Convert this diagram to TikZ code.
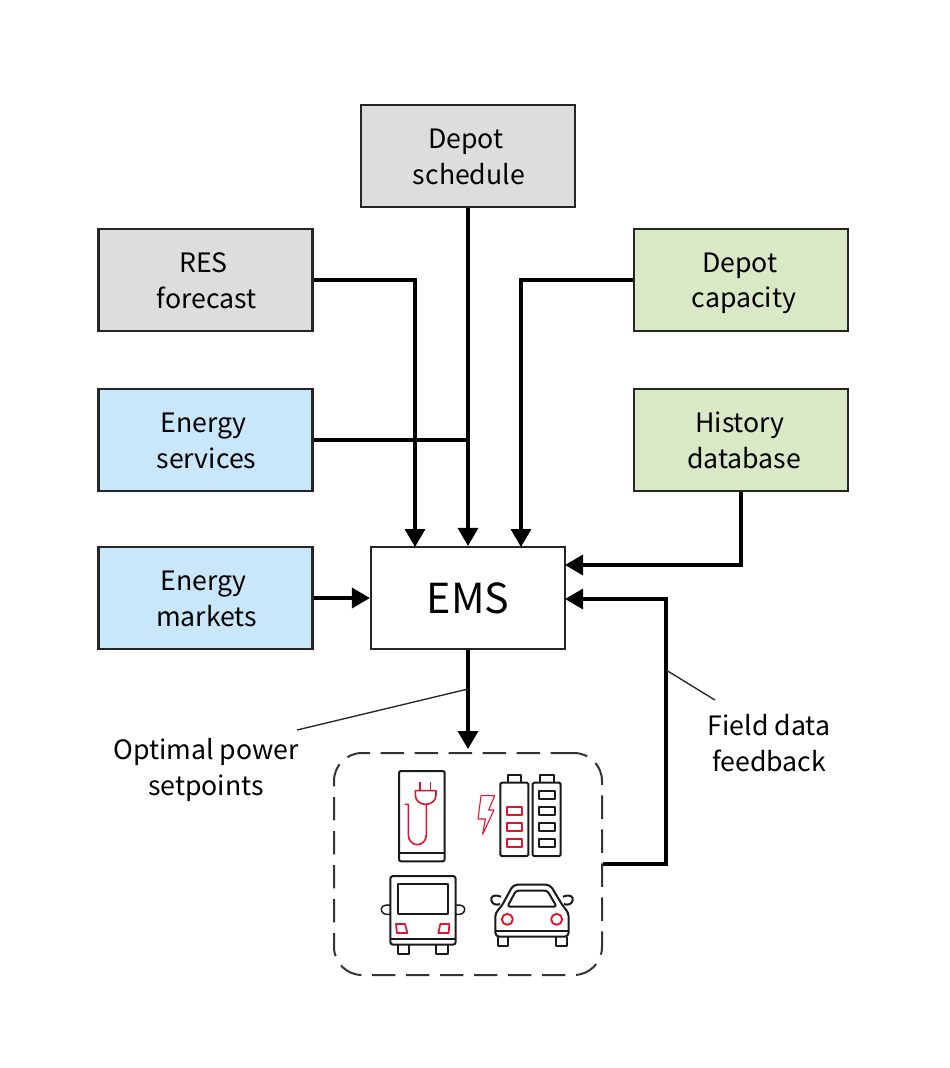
\documentclass[tikz,border=0pt]{standalone}
\usepackage{fontspec}
\setmainfont{Noto Sans CJK JP}
\usetikzlibrary{arrows.meta,calc}
\definecolor{grayfill}{HTML}{DCDEDD}
\definecolor{greenfill}{HTML}{D9E8C5}
\definecolor{bluefill}{HTML}{C9E7FA}
\definecolor{iconred}{HTML}{E8112D}
\newcommand\lineprop{\rule[-4.3pt]{0pt}{24pt}}
\newcommand\twoL[2]{#1\lineprop\hspace*{3pt}\\\hspace*{1.5pt}#2\lineprop}
\newcommand\twoR[2]{#1\lineprop\hspace*{1.5pt}\\\hspace*{4.5pt}#2\lineprop}
\tikzset{
  x=0.75pt,y=-0.75pt,
  box/.style={draw=black!85,line width=1.6pt,minimum width=160.5pt,minimum height=76.5pt,inner sep=0pt,align=center,font=\fontsize{20}{26.7}\selectfont},
  lab/.style={align=center,inner sep=0pt,font=\fontsize{20}{26.7}\selectfont},
  conn/.style={line width=2.6pt,draw=black},
  arrow/.style={conn,-{Triangle[length=13.5pt,width=15pt]}},
  thin line/.style={line width=1pt,draw=black!85},
  ik/.style={line width=1.5pt,draw=black!90,line join=round},
  ir/.style={line width=1.2pt,draw=iconred,line join=round},
}
\begin{document}
\begin{tikzpicture}
\useasboundingbox (0,0) rectangle (950,1068);
\fill[white] (0,0) rectangle (950,1068);
\node[box,fill=grayfill] (sched) at (468,156) {\twoL{Depot}{schedule}};
\node[box,fill=grayfill] (res) at (205.5,280) {\twoL{RES}{forecast}};
\node[box,fill=bluefill] (serv) at (205.5,440) {\twoL{Energy}{services}};
\node[box,fill=bluefill] (mark) at (205.5,598) {\twoL{Energy}{markets}};
\node[box,fill=greenfill] (cap) at (741,280) {\twoR{Depot}{capacity}};
\node[box,fill=greenfill] (hist) at (741,440) {\twoR{History}{database}};
\node[draw=black!85,line width=1.6pt,minimum width=145.5pt,minimum height=76.5pt,inner sep=0pt,font=\fontsize{31}{36}\selectfont] (ems) at (468,598) {EMS};
\node[draw=black!80,line width=1.5pt,dash pattern=on 17.5pt off 8pt,rounded corners=21pt,minimum width=201pt,minimum height=166.5pt,inner sep=0pt] (fleet) at (468,864) {};
\coordinate (emsA) at (415,547);
\coordinate (emsB) at (521,547);
\coordinate (emsC) at (565,565);
\coordinate (emsD) at (565,599);
\coordinate (fleetTop) at (468,749);
\coordinate (fbk) at (666,864);
\coordinate (junction) at (468,440);
\coordinate (optA) at (468,689);
\coordinate (optB) at (297,730);
\coordinate (fbA) at (666,670);
\coordinate (fbB) at (715,700);

\draw[arrow] (sched.south) -- (ems.north);
\draw[arrow] (res.east) -| (emsA);
\draw[arrow] (cap.west) -| (emsB);
\draw[conn] (serv.east) -- (junction);
\draw[arrow] (mark.east) -- (ems.west);
\draw[arrow] (hist.south) |- (emsC);
\draw[arrow] (ems.south) -- (fleetTop);
\draw[arrow] (fleet.east |- fbk) -- (fbk) |- (emsD);
\draw[thin line] (optA) -- (optB);
\draw[thin line] (fbA) -- (fbB);
\node[lab] (optlab) at (206,767.5) {Optimal power\lineprop\\setpoints\lineprop};
\node[lab] (fblab) at (769,743.5) {Field data\lineprop\\feedback\lineprop};

\begin{scope}[shift={(330,750)},x=0.25pt,y=-0.25pt]
  % charger
  \draw[ik,rounded corners=1.5pt] (207,334) -- (207,63) -- (344,63) -- (344,334) -- cycle;
  \draw[ik] (207,310) -- (344,310);
  \draw[ir] (270,97) -- (270,122) (302,97) -- (302,122);
  \draw[ir] (256,122) -- (318,122) -- (318,135) .. controls (318,152) and (304,163) .. (287,163) .. controls (270,163) and (256,152) .. (256,135) -- cycle;
  \draw[ir] (289,163) -- (289,255) .. controls (289,272) and (276,284) .. (262,284) .. controls (248,284) and (235,272) .. (235,255) -- (235,163) -- (224,163);
  % bolt
  \draw[ir,line width=.8pt] (453,137) -- (494,137) -- (476,180) -- (492,180) -- (458,253) -- (466,207) -- (444,207) -- cycle;
  % batteries
  \draw[ik,rounded corners=1pt] (511,98) rectangle (595,318);
  \draw[ik] (533,98) -- (533,76) -- (574,76) -- (574,98);
  \draw[ik,rounded corners=1pt] (608,98) rectangle (692,318);
  \draw[ik] (631,98) -- (631,76) -- (671,76) -- (671,98);
  \foreach \y in {171,219,267} \draw[ir,line width=1.4pt] (530,\y) rectangle (576,\y+24);
  \foreach \y in {123,171,219,267} \draw[ik] (628,\y) rectangle (674,\y+24);
  % bus
  \draw[ik,rounded corners=2pt] (181,584) -- (181,378) -- (377,378) -- (377,584) -- cycle;
  \draw[ik] (181,566) -- (377,566);
  \draw[ik] (205,401) rectangle (353,493);
  \draw[ik] (204,584) -- (204,611) -- (238,611) -- (238,584);
  \draw[ik] (319,584) -- (319,611) -- (353,611) -- (353,584);
  \draw[ik,line width=1.1pt] (181,466) .. controls (160,462) and (150,472) .. (155,484) .. controls (160,493) and (172,495) .. (181,493);
  \draw[ik,line width=1.1pt] (377,466) .. controls (398,462) and (408,472) .. (403,484) .. controls (398,493) and (386,495) .. (377,493);
  \draw[ir,line width=1.3pt] (198,522) -- (225,522) -- (232,549) -- (201,549) -- cycle;
  \draw[ir,line width=1.3pt] (331,522) -- (358,522) -- (356,549) -- (325,549) -- cycle;
  % car
  \draw[ik,rounded corners=3pt] (496,560) -- (496,488) -- (514,470) -- (550,404) -- (660,404) -- (700,470) -- (716,488) -- (716,560) -- cycle;
  \draw[ik] (496,542) -- (716,542);
  \draw[ik,rounded corners=2pt] (532,470) -- (558,422) -- (652,422) -- (680,470) -- cycle;
  \draw[ik] (503,560) -- (503,587) -- (534,587) -- (534,560);
  \draw[ik] (679,560) -- (679,587) -- (710,587) -- (710,560);
  \draw[ik] (513,440) .. controls (495,432) and (480,438) .. (484,452) .. controls (488,464) and (500,466) .. (510,462);
  \draw[ik] (699,440) .. controls (717,432) and (732,438) .. (728,452) .. controls (724,464) and (712,466) .. (702,462);
  \draw[ir,line width=1.4pt] (532,508) circle[radius=16.5];
  \draw[ir,line width=1.4pt] (680,508) circle[radius=16.5];
\end{scope}
\end{tikzpicture}
\end{document}
